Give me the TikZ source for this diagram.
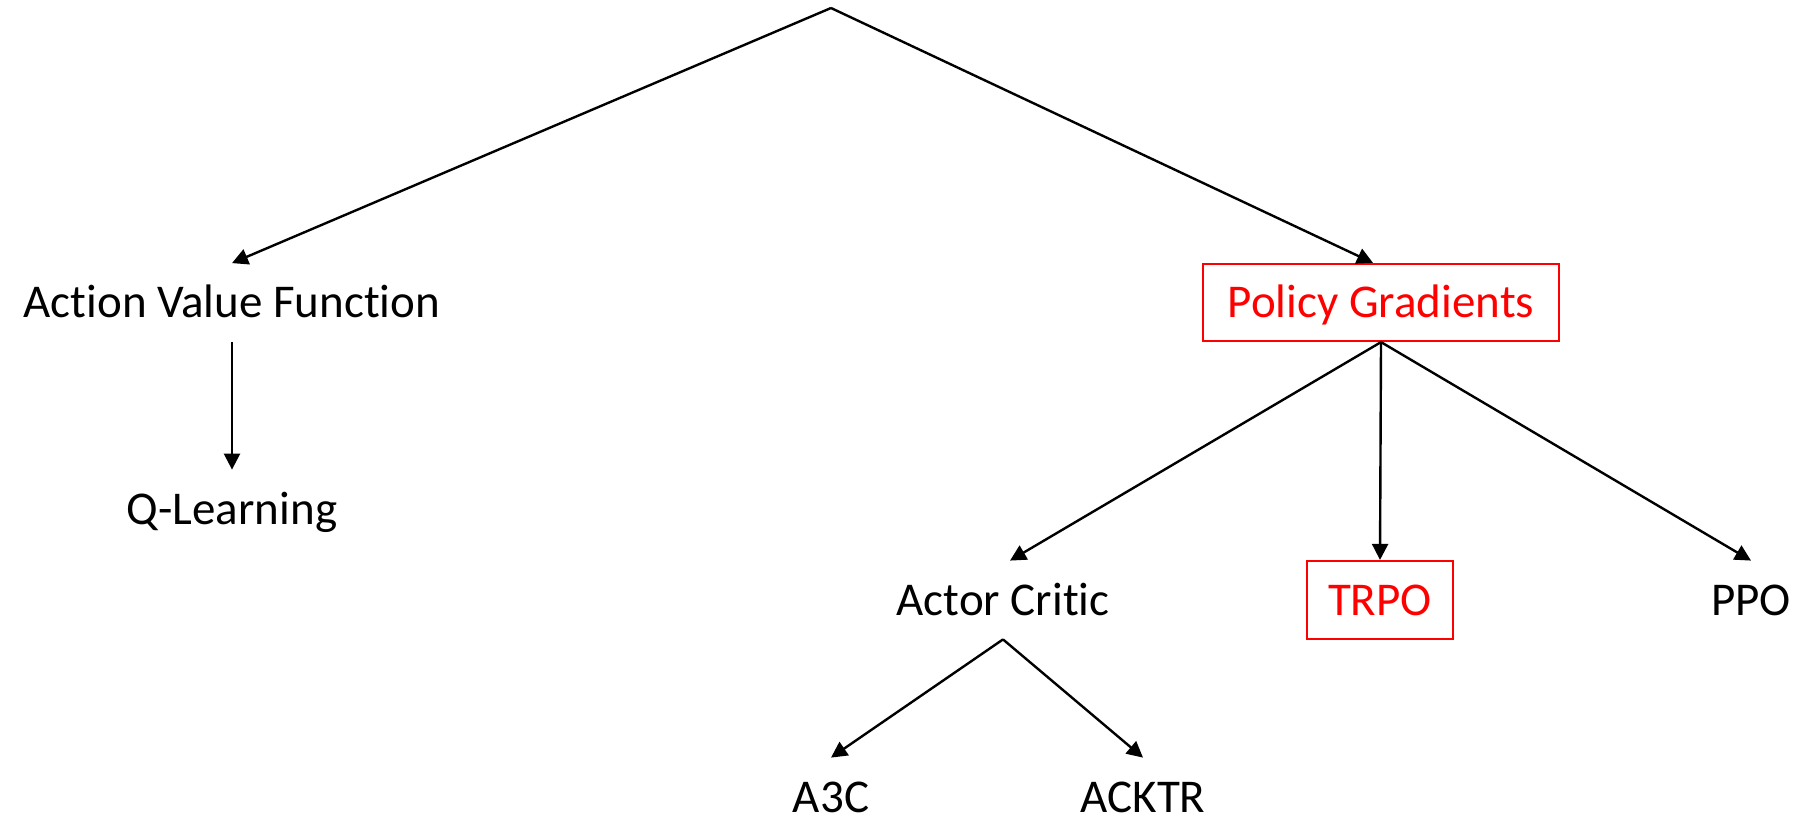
\documentclass[tikz,border=0pt]{standalone}
\usepackage{fontspec}
\setmainfont{Carlito}[Ligatures=NoCommon]
\usetikzlibrary{arrows.meta}
\definecolor{pgred}{RGB}{255,0,0}
\tikzset{
  lbl/.style={inner sep=0pt, text height=15pt, text depth=0pt, minimum height=39pt, font=\fontsize{23.5}{28}\selectfont},
  leaf/.style={lbl, minimum height=0pt},
  redbox/.style={lbl, draw=pgred, text=pgred, line width=1.1pt},
  arr/.style={line width=1.2pt, -{Triangle[width=8pt,length=8pt]}}
}
\begin{document}
\begin{tikzpicture}[x=0.5pt,y=-0.5pt]
\useasboundingbox (0,0) rectangle (1814,820);
\coordinate (top) at (831,8);
\node[lbl] (avf) at (232,302.5) {Action Value Function};
\node[lbl] (ql) at (232,509) {Q-Learning};
\node[redbox, minimum width=178pt, minimum height=38.5pt] (pg) at (1381,302.5) {Policy Gradients};
\node[lbl] (ac) at (1003,600) {Actor Critic};
\node[redbox, minimum width=73pt] (trpo) at (1380,600) {TRPO};
\node[lbl] (ppo) at (1751,600) {PPO};
\node[leaf] (a3c) at (831,797) {A3C};
\node[leaf] (acktr) at (1143,797) {ACKTR};
\draw[arr] (top) -- (avf.north);
\draw[arr] (top) -- ([xshift=-4pt]pg.north);
\draw[arr] (avf.south) -- (ql.north);
\draw[arr] (pg.south) -- ([xshift=3.5pt]ac.north);
\draw[arr] (pg.south) -- (trpo.north);
\draw[arr] (pg.south) -- (ppo.north);
\draw[arr] (ac.south) -- ([yshift=12pt]a3c.north);
\draw[arr] (ac.south) -- ([yshift=12pt]acktr.north);
\end{tikzpicture}
\end{document}
